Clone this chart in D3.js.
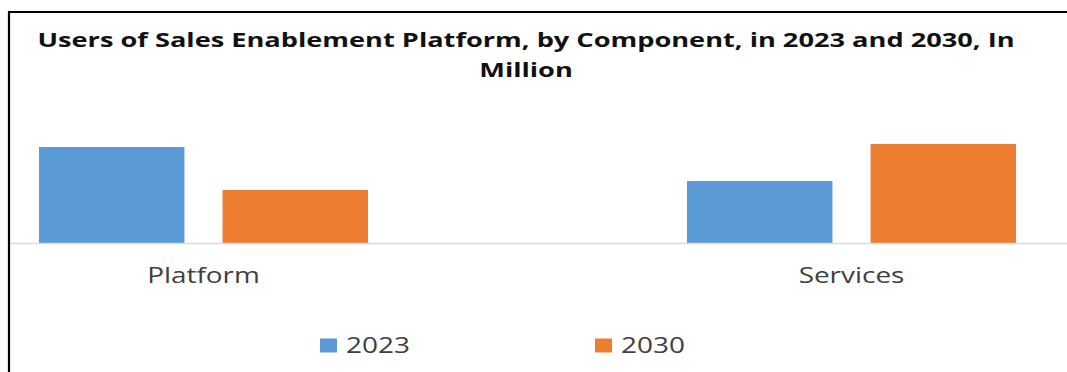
<!DOCTYPE html>
<html>
<head>
<meta charset="utf-8">
<script src="https://cdn.jsdelivr.net/npm/d3@7"></script>
<style>
  html, body { margin: 0; padding: 0; background: #fff; }
  svg { display: block; }
  text { font-family: "Open Sans", "Noto Sans", sans-serif; }
</style>
</head>
<body>
<svg id="chart" width="1067" height="372"></svg>
<script>
// Users of sales enablement platforms by component (million)
const categories = ["Platform", "Services"];
const seriesNames = ["2023", "2030"];
const values2023 = [9.6, 6.2];
const values2030 = [5.3, 9.9];
const titleLines = ["Users of Sales Enablement Platform, by Component, in 2023 and 2030, In", "Million"];

const colors = { "2023": "#5b9bd5", "2030": "#ed7d31" };
const SX = 1.27; // horizontal stretch applied to body text

const svg = d3.select("#chart");
const W = 1067, H = 372;

// frame: left and top rules
svg.append("line").attr("x1", 9).attr("x2", 9).attr("y1", 11).attr("y2", H)
  .attr("stroke", "#000").attr("stroke-width", 2.2);
svg.append("line").attr("x1", 8).attr("x2", W).attr("y1", 12).attr("y2", 12)
  .attr("stroke", "#000").attr("stroke-width", 2.2);

function stretchedText(g, x, y, str, opts) {
  return g.append("text")
    .attr("transform", `translate(${x},${y}) scale(${opts.sx || SX},1)`)
    .attr("text-anchor", opts.anchor || "middle")
    .attr("font-size", opts.size)
    .attr("font-weight", opts.weight || 400)
    .attr("fill", opts.fill || "#404040")
    .text(str);
}

// title
titleLines.forEach((t, i) => {
  stretchedText(svg, 526, 47 + i * 30, t, { size: 20, weight: 700, fill: "#111", sx: 1.36 });
});

// scales
const y = d3.scaleLinear().domain([0, 12]).range([243, 123]);
const x = d3.scalePoint().domain(categories).range([203.5, 851.5]);
const xSub = d3.scaleBand().domain(seriesNames).range([-164.5, 164.5]).paddingInner(0.2077);

const rows = categories.map((c, i) => ({ cat: c, vals: [
  { key: "2023", v: values2023[i] },
  { key: "2030", v: values2030[i] }
]}));

const groups = svg.append("g").selectAll("g").data(rows).join("g")
  .attr("transform", d => `translate(${x(d.cat)},0)`);

groups.selectAll("rect").data(d => d.vals).join("rect")
  .attr("x", d => xSub(d.key))
  .attr("width", xSub.bandwidth())
  .attr("y", d => y(d.v))
  .attr("height", d => y(0) - y(d.v))
  .attr("fill", d => colors[d.key]);

// category axis line
svg.append("line").attr("x1", 10).attr("x2", W).attr("y1", y(0) + 0.5).attr("y2", y(0) + 0.5)
  .attr("stroke", "#d9d9d9").attr("stroke-width", 1.3);

// category labels
categories.forEach(c => {
  stretchedText(svg, x(c), 283, c, { size: 22, fill: "#404040" });
});

// legend
const legendX = [320, 595];
seriesNames.forEach((s, i) => {
  svg.append("rect").attr("x", legendX[i]).attr("y", 338.5)
    .attr("width", 17).attr("height", 14).attr("fill", colors[s]);
  stretchedText(svg, legendX[i] + 26, 353, s, { size: 22, anchor: "start", fill: "#404040" });
});
</script>
</body>
</html>
